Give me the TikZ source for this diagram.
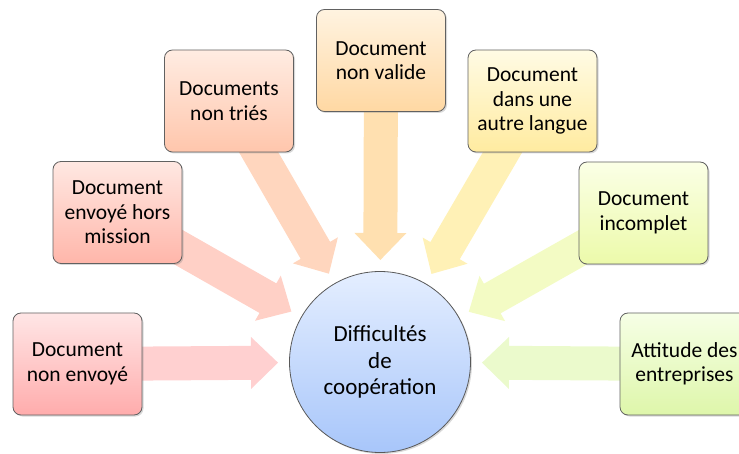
\documentclass[tikz,border=0pt]{standalone}
\usepackage{fontspec}
\setmainfont{Carlito}
\usetikzlibrary{calc,shadows,backgrounds}
\definecolor{bxA}{RGB}{255,230,230}\definecolor{bxAb}{RGB}{255,172,172}\definecolor{arA}{RGB}{255,208,208}
\definecolor{bxB}{RGB}{255,232,226}\definecolor{bxBb}{RGB}{255,182,170}\definecolor{arB}{RGB}{255,208,198}
\definecolor{bxC}{RGB}{255,236,226}\definecolor{bxCb}{RGB}{255,198,172}\definecolor{arC}{RGB}{255,214,190}
\definecolor{bxD}{RGB}{255,243,224}\definecolor{bxDb}{RGB}{255,216,163}\definecolor{arD}{RGB}{255,224,176}
\definecolor{bxE}{RGB}{255,251,228}\definecolor{bxEb}{RGB}{255,235,160}\definecolor{arE}{RGB}{255,241,182}
\definecolor{bxF}{RGB}{251,255,230}\definecolor{bxFb}{RGB}{236,250,170}\definecolor{arF}{RGB}{243,251,196}
\definecolor{bxG}{RGB}{246,255,230}\definecolor{bxGb}{RGB}{222,246,170}\definecolor{arG}{RGB}{235,250,204}
\definecolor{ciT}{RGB}{228,238,255}\definecolor{ciB}{RGB}{168,198,250}
\newcommand\blockarrow[3]{%
  \coordinate (ab) at ($(#2)!27pt!(#1)$);
  \fill[#3] ($(#1)!17pt!90:(#2)$) -- ($(ab)!17pt!90:(#2)$) -- ($(ab)!26pt!90:(#2)$) -- (#2)
    -- ($(ab)!26pt!-90:(#2)$) -- ($(ab)!17pt!-90:(#2)$) -- ($(#1)!17pt!-90:(#2)$) -- cycle;}
\begin{document}
\begin{tikzpicture}[x=1pt,y=-1pt,
  box/.style={draw=black!62, line width=0.8pt, rounded corners=8pt,
    minimum width=129pt, minimum height=102pt, align=center,
    font=\fontsize{21.5}{24.5}\selectfont,
    drop shadow={shadow xshift=1.5pt, shadow yshift=-1.5pt, opacity=0.3}},
  hub/.style={circle, draw=black!65, line width=0.8pt, minimum size=181pt,
    align=center, font=\fontsize{23}{26.5}\selectfont, top color=ciT, bottom color=ciB,
    drop shadow={shadow xshift=1.5pt, shadow yshift=-1.5pt, opacity=0.3}}]
\useasboundingbox (0,0) rectangle (739,454);
\node[hub] (c) at (380,362) {Difficultés\\de\\coopération};
\node[box, top color=bxA, bottom color=bxAb] (b1) at (77.5,364) {Document\\non envoyé};
\node[box, top color=bxB, bottom color=bxBb] (b2) at (117.5,212.5) {Document\\envoyé hors\\mission};
\node[box, top color=bxC, bottom color=bxCb] (b3) at (229,101) {Documents\\non triés};
\node[box, top color=bxD, bottom color=bxDb] (b4) at (381,60.5) {Document\\non valide};
\node[box, top color=bxE, bottom color=bxEb] (b5) at (532.5,101) {Document\\dans une\\autre langue};
\node[box, top color=bxF, bottom color=bxFb] (b6) at (643.5,213) {Document\\incomplet};
\node[box, top color=bxG, bottom color=bxGb] (b7) at (684.5,364) {Attitude des\\entreprises};
\foreach \i in {1,...,7} {\coordinate (t\i) at ($(c.center)!102pt!(b\i.center)$);}
\begin{scope}[on background layer]
\blockarrow{b1.center}{t1}{arA}
\blockarrow{b2.center}{t2}{arB}
\blockarrow{b3.center}{t3}{arC}
\blockarrow{b4.center}{t4}{arD}
\blockarrow{b5.center}{t5}{arE}
\blockarrow{b6.center}{t6}{arF}
\blockarrow{b7.center}{t7}{arG}
\end{scope}
\end{tikzpicture}
\end{document}
